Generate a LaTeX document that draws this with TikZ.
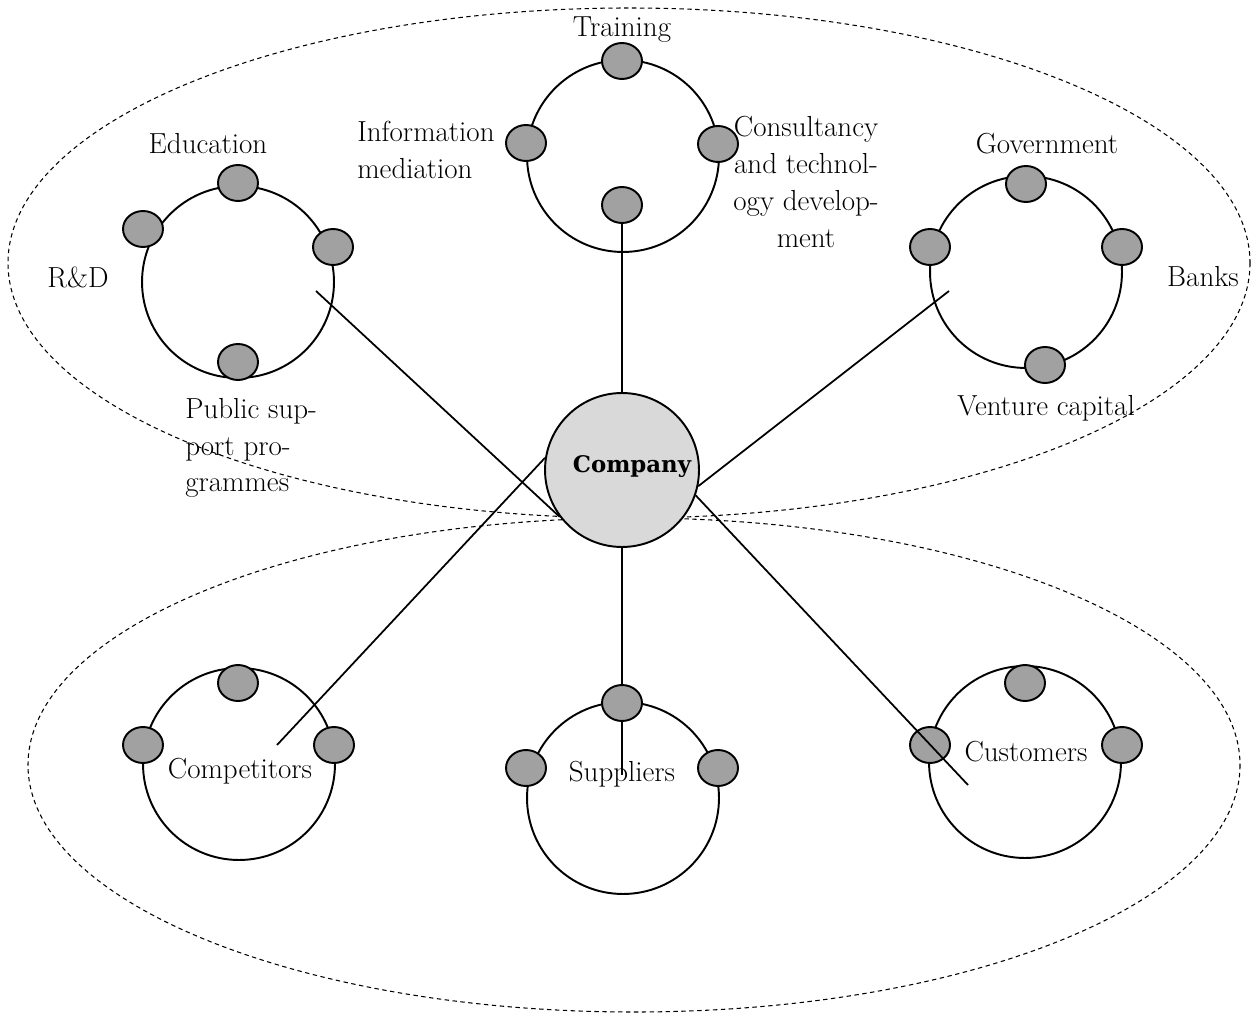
\documentclass[tikz,border=0pt]{standalone}
\usepackage{fontspec}
\newfontfamily\compfont{DejaVu Serif}
\usetikzlibrary{shapes.geometric}
\colorlet{dotgray}{black!37}
\colorlet{compgray}{black!15}

\begin{document}
\begin{tikzpicture}[ x=0.02cm, y=-0.02cm
                   , group/.style={draw, circle, line width=1.1pt, minimum size=3.84cm, inner sep=0pt}
                   , member/.style={draw, ellipse, fill=dotgray, line width=1.1pt, minimum width=0.8cm, minimum height=0.72cm, inner sep=0pt}
                   , link/.style={line width=1pt}
                   , lbl/.style={font=\fontsize{16.5}{21}\selectfont, inner sep=0pt}
                   , area/.style={line width=0.6pt, dash pattern=on 2.5pt off 2pt}
                   ]

      \useasboundingbox (0,0) rectangle (1253,1016);

      % the two environments
      \draw [area] (629,263) ellipse [x radius=621, y radius=255];
      \draw [area] (634,765) ellipse [x radius=606, y radius=247];

      % groups
      \node (edu) [group] at (238,282) {};
      \node (trn) [group] at (623,156) {};
      \node (gov) [group] at (1026,272) {};
      \node (cmp) [group] at (239,764) {};
      \node (sup) [group] at (623,798) {};
      \node (cus) [group] at (1025,762) {};

      \node (company) [draw, circle, fill=compgray, line width=1.1pt, minimum size=3.08cm] at (622,470) {};
      \node (lblcompany) [font=\compfont\bfseries\fontsize{13}{15}\selectfont, inner sep=0pt] at (632,467) {Company};

      % members
      \node (edu1) [member] at (238,183) {};
      \node (edu2) [member] at (143,229) {};
      \node (edu3) [member] at (333,247) {};
      \node (edu4) [member] at (238,362) {};

      \node (trn1) [member] at (622,61) {};
      \node (trn2) [member] at (526,143) {};
      \node (trn3) [member] at (718,144) {};
      \node (trn4) [member] at (622,205) {};

      \node (gov1) [member] at (1026,184) {};
      \node (gov2) [member] at (930,247) {};
      \node (gov3) [member] at (1122,247) {};
      \node (gov4) [member] at (1045,365) {};

      \node (cmp1) [member] at (238,683) {};
      \node (cmp2) [member] at (143,745) {};
      \node (cmp3) [member] at (334,745) {};

      \node (sup1) [member] at (622,703) {};
      \node (sup2) [member] at (526,768) {};
      \node (sup3) [member] at (718,768) {};

      \node (cus1) [member] at (1025,683) {};
      \node (cus2) [member] at (930,745) {};
      \node (cus3) [member] at (1122,745) {};

      % links to the company
      \coordinate (edu-in) at (316,291);
      \coordinate (gov-in) at (949,291);
      \coordinate (cmp-in) at (277,745);
      \coordinate (sup-in) at (622,775);
      \coordinate (cus-in) at (968,785);

      \draw [link] (edu-in) -- (company.217);
      \draw [link] (trn4) -- (company);
      \draw [link] (gov-in) -- (company.348);
      \draw [link] (cmp-in) -- (company.171);
      \draw [link] (company) -- (sup1);
      \draw [link] (sup1) -- (sup-in);
      \draw [link] (company.341) -- (cus-in);

      % labels
      \node (lbltrn)  [lbl] at (622,30) {Training};
      \node (lblinfo) [lbl, anchor=west, align=left] at (357,150) {Information\\mediation};
      \node (lblcons) [lbl, align=center] at (806,182) {Consultancy\\and technol-\\ogy develop-\\ment};
      \node (lbledu)  [lbl] at (208,144) {Education};
      \node (lblrd)   [lbl] at (78,277) {R\&D};
      \node (lblpub)  [lbl, anchor=west, align=left] at (185,448) {Public sup-\\port pro-\\grammes};
      \node (lblgov)  [lbl] at (1047,144) {Government};
      \node (lblbank) [lbl] at (1203,277) {Banks};
      \node (lblvc)   [lbl] at (1046,408) {Venture capital};
      \node (lblcmp)  [lbl] at (240,771) {Competitors};
      \node (lblsup)  [lbl] at (622,774) {Suppliers};
      \node (lblcus)  [lbl] at (1026,752) {Customers};

  \end{tikzpicture}
\end{document}
